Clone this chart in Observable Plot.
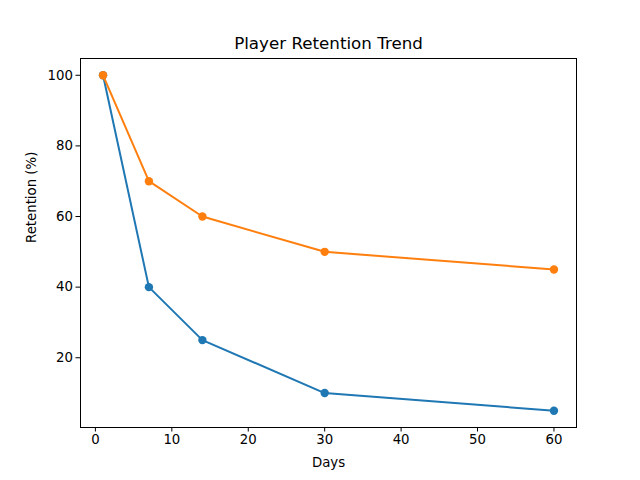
<!DOCTYPE html>
<html>
<head>
<meta charset="utf-8">
<script src="https://cdn.jsdelivr.net/npm/d3@7"></script>
<script src="https://cdn.jsdelivr.net/npm/@observablehq/plot@0.6"></script>
<style>
  html, body { margin: 0; padding: 0; background: white; }
</style>
</head>
<body>
<div id="chart"></div>
<script>
const titleText = "Player Retention Trend";
const xLabel = "Days";
const yLabel = "Retention (%)";
const days = [1, 7, 14, 30, 60];
const retentionBlue = [100, 40, 25, 10, 5];
const retentionOrange = [100, 70, 60, 50, 45];
const xTicks = [0, 10, 20, 30, 40, 50, 60];
const yTicks = [20, 40, 60, 80, 100];

const blueData = days.map((d, i) => ({day: d, value: retentionBlue[i]}));
const orangeData = days.map((d, i) => ({day: d, value: retentionOrange[i]}));

const chart = Plot.plot({
  width: 640,
  height: 480,
  marginLeft: 80,
  marginRight: 64,
  marginTop: 58,
  marginBottom: 53,
  style: {fontFamily: "DejaVu Sans", fontSize: "13.3px", background: "white", color: "black"},
  x: {domain: [-1.95, 62.95]},
  y: {domain: [0.25, 104.75]},
  marks: [
    Plot.axisX({ticks: xTicks, tickSize: 4.5, tickPadding: 3, label: null, tickFormat: d => String(d), fontSize: 13.3}),
    Plot.axisY({ticks: yTicks, tickSize: 4.5, tickPadding: 3, label: null, tickFormat: d => String(d), fontSize: 13.3}),
    Plot.line(blueData, {x: "day", y: "value", stroke: "#1f77b4", strokeWidth: 2}),
    Plot.dot(blueData, {x: "day", y: "value", fill: "#1f77b4", r: 4.2}),
    Plot.line(orangeData, {x: "day", y: "value", stroke: "#ff7f0e", strokeWidth: 2}),
    Plot.dot(orangeData, {x: "day", y: "value", fill: "#ff7f0e", r: 4.2}),
    Plot.frame({stroke: "black", strokeWidth: 1}),
    Plot.text([titleText], {frameAnchor: "top", dy: -15, lineAnchor: "middle", fontSize: 16.7, fill: "black"}),
    Plot.text([xLabel], {frameAnchor: "bottom", dy: 35, lineAnchor: "middle", fontSize: 13.3, fill: "black"}),
    Plot.text([yLabel], {frameAnchor: "left", dx: -49, rotate: -90, lineAnchor: "middle", fontSize: 13.3, fill: "black"})
  ]
});
document.getElementById("chart").appendChild(chart);
</script>
</body>
</html>
